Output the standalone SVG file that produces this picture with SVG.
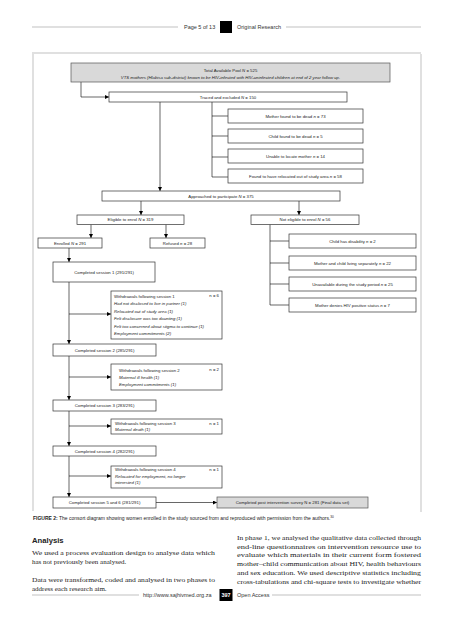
<svg xmlns="http://www.w3.org/2000/svg" width="453" height="640" viewBox="0 0 453 640">
<defs>
<marker id="ah" markerUnits="userSpaceOnUse" markerWidth="4" markerHeight="4" viewBox="0 0 4 4" refX="4" refY="2" orient="auto">
<path d="M0,0 L4,2 L0,4 Z" fill="#000"/>
</marker>
<style>
.bx{fill:#fff;stroke:#333;stroke-width:0.7}
.gx{fill:#d9d9d9;stroke:#555;stroke-width:0.7}
.ln{fill:none;stroke:#000;stroke-width:0.6}
.ar{fill:none;stroke:#000;stroke-width:0.6;marker-end:url(#ah)}
.t{font-family:"Liberation Sans",Arial,sans-serif;font-size:4.3px;fill:#222}
.c{text-anchor:middle}
.i{font-style:italic}
.r{text-anchor:end}
.hd{font-family:"Liberation Sans",Arial,sans-serif;font-size:5.5px;fill:#333}
.body{font-family:"Liberation Serif","Times New Roman",serif;font-size:7px;fill:#222}
.rule{stroke:#999;stroke-width:0.6;fill:none}
</style>
</defs>
<rect width="453" height="640" fill="#fff"/>
<!-- header -->
<g id="header">
<line class="rule" x1="32" y1="27" x2="178" y2="27"/>
<text class="hd" x="184" y="29">Page 5 of 13</text>
<rect x="220" y="21" width="12" height="12" fill="#000"/>
<text class="hd" x="237" y="29">Original Research</text>
<line class="rule" x1="286" y1="27" x2="421" y2="27"/>
<line class="rule" x1="32" y1="53" x2="421" y2="53"/>
</g>
<!-- frame -->
<g id="frame">
<line class="rule" x1="33" y1="54" x2="33" y2="511" stroke="#bbb"/>
<line class="rule" x1="421" y1="54" x2="421" y2="512" stroke="#bbb"/>
</g>
<!-- connectors -->
<g id="connectors">
<path class="ar" d="M81,82 V97 H109"/>
<path class="ar" d="M160,102 V191"/>
<path class="ln" d="M212,102 V177 M212,116 H228 M212,136 H228 M212,157 H228 M212,177 H228"/>
<path class="ar" d="M141,201 V215"/>
<path class="ar" d="M299,201 V215"/>
<path class="ar" d="M91,224.5 V238"/>
<path class="ar" d="M166,224.5 V238"/>
<path class="ar" d="M69,248 V262"/>
<path class="ln" d="M270,224.5 V305 M270,241 H289 M270,263 H289 M270,284 H289 M270,305 H289"/>
<path class="ar" d="M69,282 V344"/>
<path class="ar" d="M69,314 H111"/>
<path class="ar" d="M69,356 V400"/>
<path class="ar" d="M69,377 H111"/>
<path class="ar" d="M69,411 V446"/>
<path class="ar" d="M69,426 H111"/>
<path class="ar" d="M69,456 V497"/>
<path class="ar" d="M69,476 H111"/>
<path class="ar" d="M156,502.5 H217"/>
</g>
<!-- nodes -->
<g id="pool">
<rect class="gx" x="71" y="63" width="319" height="19"/>
<text class="t c" x="230.5" y="71.5">Total Available Pool <tspan class="i">N</tspan> = 525</text>
<text class="t c i" x="230.5" y="78.5">VTS mothers (Hlabisa sub-district) known to be HIV-infected with HIV-uninfected children at end of 2 year follow up.</text>
</g>
<g id="traced">
<rect class="bx" x="109" y="92" width="238" height="10"/>
<text class="t c" x="228" y="98.5">Traced and excluded <tspan class="i">N</tspan> = 150</text>
</g>
<g id="mother-dead">
<rect class="bx" x="228" y="109" width="135" height="14"/>
<text class="t c" x="295.5" y="117.5">Mother found to be dead <tspan class="i">n</tspan> = 73</text>
</g>
<g id="child-dead">
<rect class="bx" x="228" y="129" width="135" height="14"/>
<text class="t c" x="295.5" y="137.5">Child found to be dead <tspan class="i">n</tspan> = 5</text>
</g>
<g id="unable">
<rect class="bx" x="228" y="149" width="135" height="14"/>
<text class="t c" x="295.5" y="157.5">Unable to locate mother <tspan class="i">n</tspan> = 14</text>
</g>
<g id="relocated">
<rect class="bx" x="228" y="169" width="135" height="14"/>
<text class="t c" x="295.5" y="177.5">Found to have relocated out of study area <tspan class="i">n</tspan> = 58</text>
</g>
<g id="approached">
<rect class="bx" x="102" y="191" width="238" height="10"/>
<text class="t c" x="221" y="197.5">Approached to participate <tspan class="i">N</tspan> = 375</text>
</g>
<g id="eligible">
<rect class="bx" x="77" y="215" width="107" height="9.5"/>
<text class="t c" x="130.5" y="221.3">Eligible to enrol <tspan class="i">N</tspan> = 319</text>
</g>
<g id="not-eligible">
<rect class="bx" x="251" y="215" width="108" height="9.5"/>
<text class="t c" x="305" y="221.3">Not eligible to enrol <tspan class="i">N</tspan> = 56</text>
</g>
<g id="enrolled">
<rect class="bx" x="38" y="238" width="64" height="10"/>
<text class="t c" x="70" y="244.5">Enrolled <tspan class="i">N</tspan> = 291</text>
</g>
<g id="refused">
<rect class="bx" x="150" y="238" width="55" height="10"/>
<text class="t c" x="177.5" y="244.5">Refused <tspan class="i">n</tspan> = 28</text>
</g>
<g id="disability">
<rect class="bx" x="289" y="234" width="127" height="14"/>
<text class="t c" x="352.5" y="242.5">Child has disability <tspan class="i">n</tspan> = 2</text>
</g>
<g id="separately">
<rect class="bx" x="289" y="256" width="127" height="14"/>
<text class="t c" x="352.5" y="264.5">Mother and child living separately <tspan class="i">n</tspan> = 22</text>
</g>
<g id="unavailable">
<rect class="bx" x="289" y="277" width="127" height="14"/>
<text class="t c" x="352.5" y="285.5">Unavailable during the study period <tspan class="i">n</tspan> = 25</text>
</g>
<g id="denies">
<rect class="bx" x="289" y="298" width="127" height="14"/>
<text class="t c" x="352.5" y="306.5">Mother denies HIV positive status <tspan class="i">n</tspan> = 7</text>
</g>
<g id="session1">
<rect class="bx" x="53" y="262" width="102" height="20"/>
<text class="t c" x="104" y="273.5">Completed session 1 (291/291)</text>
</g>
<g id="withdraw1">
<rect class="bx" x="111" y="291" width="111" height="48"/>
<text class="t" x="114" y="297.5">Withdrawals following session 1</text>
<text class="t r" x="219" y="297">n = 6</text>
<text class="t i" x="114" y="305">Had not disclosed to live in partner (1)</text>
<text class="t i" x="114" y="312.5">Relocated out of study area (1)</text>
<text class="t i" x="114" y="320">Felt disclosure was too daunting (1)</text>
<text class="t i" x="114" y="327.5">Felt too concerned about stigma to continue (1)</text>
<text class="t i" x="114" y="335">Employment commitments (2)</text>
</g>
<g id="session2">
<rect class="bx" x="53" y="344" width="103" height="12"/>
<text class="t c" x="104.5" y="351.5">Completed session 2 (285/291)</text>
</g>
<g id="withdraw2">
<rect class="bx" x="111" y="364" width="111" height="26"/>
<text class="t" x="119" y="372">Withdrawals following session 2</text>
<text class="t r" x="219" y="370.5">n = 2</text>
<text class="t i" x="119" y="378.5">Maternal ill health (1)</text>
<text class="t i" x="119" y="385.5">Employment commitments (1)</text>
</g>
<g id="session3">
<rect class="bx" x="53" y="400" width="103" height="11"/>
<text class="t c" x="104.5" y="407">Completed session 3 (283/291)</text>
</g>
<g id="withdraw3">
<rect class="bx" x="111" y="419" width="111" height="15"/>
<text class="t" x="115" y="425">Withdrawals following session 3</text>
<text class="t r" x="219" y="424.5">n = 1</text>
<text class="t i" x="115" y="431">Maternal death (1)</text>
</g>
<g id="session4">
<rect class="bx" x="53" y="446" width="103" height="10"/>
<text class="t c" x="104.5" y="452.5">Completed session 4 (282/291)</text>
</g>
<g id="withdraw4">
<rect class="bx" x="111" y="466" width="111" height="22"/>
<text class="t" x="115" y="471">Withdrawals following session 4</text>
<text class="t r" x="219" y="471">n = 1</text>
<text class="t i" x="115" y="477.5">Relocated for employment, no longer</text>
<text class="t i" x="115" y="484">interested (1)</text>
</g>
<g id="session56">
<rect class="bx" x="53" y="497" width="103" height="11"/>
<text class="t c" x="104.5" y="504">Completed session 5 and 6 (281/291)</text>
</g>
<g id="final">
<rect class="gx" x="217" y="497" width="151" height="11"/>
<text class="t c" x="292.5" y="504">Completed post intervention survey N = 281 (Final data set)</text>
</g>
<!-- caption and body -->
<g id="caption">
<text x="33" y="519.5" font-family="'Liberation Sans',Arial,sans-serif" font-size="5px" fill="#222"><tspan font-weight="bold">FIGURE 2:</tspan> The consort diagram showing women enrolled in the study sourced from and reproduced with permission from the authors.<tspan font-size="3.2px" dy="-2">30</tspan></text>
</g>
<g id="text">
<text x="32" y="543" font-family="'Liberation Sans',Arial,sans-serif" font-size="7.7px" font-weight="bold" fill="#222">Analysis</text>
<text class="body" x="32" y="555" textLength="183" lengthAdjust="spacingAndGlyphs">We used a process evaluation design to analyse data which</text>
<text class="body" x="32" y="564">has not previously been analysed.</text>
<text class="body" x="32" y="582" textLength="183" lengthAdjust="spacingAndGlyphs">Data were transformed, coded and analysed in two phases to</text>
<text class="body" x="32" y="591">address each research aim.</text>
<text class="body" x="237" y="540" textLength="184" lengthAdjust="spacingAndGlyphs">In phase 1, we analysed the qualitative data collected through</text>
<text class="body" x="237" y="548.7" textLength="184" lengthAdjust="spacingAndGlyphs">end-line questionnaires on intervention resource use to</text>
<text class="body" x="237" y="557.4" textLength="184" lengthAdjust="spacingAndGlyphs">evaluate which materials in their current form fostered</text>
<text class="body" x="237" y="566.1" textLength="184" lengthAdjust="spacingAndGlyphs">mother–child communication about HIV, health behaviours</text>
<text class="body" x="237" y="574.8" textLength="184" lengthAdjust="spacingAndGlyphs">and sex education. We used descriptive statistics including</text>
<text class="body" x="237" y="583.5" textLength="184" lengthAdjust="spacingAndGlyphs">cross-tabulations and chi-square tests to investigate whether</text>
</g>
<g id="footer">
<line class="rule" x1="32" y1="595" x2="139" y2="595"/>
<text class="hd" x="143" y="597">http://www.sajhivmed.org.za</text>
<rect x="219.5" y="589" width="13" height="12" fill="#000"/>
<text x="226" y="597" text-anchor="middle" font-family="'Liberation Sans',Arial,sans-serif" font-size="5.5px" font-weight="bold" fill="#fff">397</text>
<text class="hd" x="237" y="597">Open Access</text>
<line class="rule" x1="272" y1="595" x2="421" y2="595"/>
</g>
</svg>
